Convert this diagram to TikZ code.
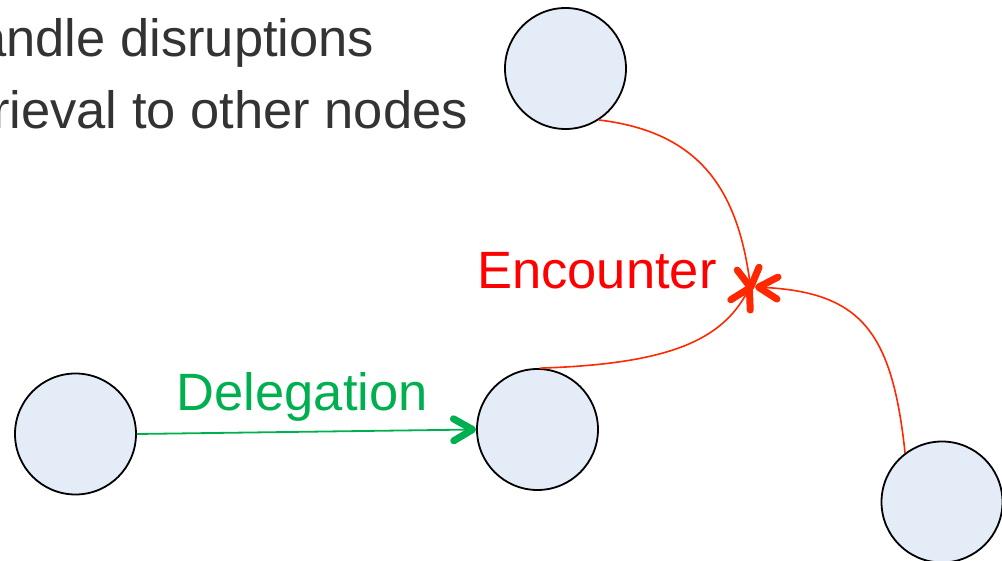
\documentclass[tikz,border=0pt]{standalone}
\usepackage{fontspec}
\setmainfont{Liberation Sans}
\usetikzlibrary{arrows.meta}
\definecolor{nodefill}{RGB}{228,236,247}
\definecolor{txtgray}{RGB}{51,51,51}
\definecolor{encred}{RGB}{255,0,0}
\definecolor{linered}{RGB}{255,40,0}
\definecolor{delgreen}{RGB}{0,176,80}
\tikzset{
  peer/.style={circle, draw=black, line width=1.8pt, fill=nodefill, minimum size=121pt, inner sep=0pt},
  bigtext/.style={inner sep=0pt, font=\fontsize{52.5}{63}\selectfont},
  tipbarb/.style={-{Straight Barb[length=19pt, width=22pt, line width=7pt, round]}},
  encline/.style={draw=linered, line width=1.6pt, tipbarb},
  delline/.style={draw=delgreen, line width=1.8pt, tipbarb}
}
\begin{document}
\begin{tikzpicture}[x=1pt,y=-1pt]
\useasboundingbox (0,0) rectangle (1002,561);
% header text (cropped at the left edge, as in the reference)
\node[bigtext, text=txtgray, anchor=base east] (t1) at (374.5,56.7) {andle disruptions};
\node[bigtext, text=txtgray, anchor=base east] (t2) at (468,128.3) {rieval to other nodes};
% nodes
\node[peer] (left) at (75.5,434) {};
\node[peer] (mid) at (537.5,429.5) {};
\node[peer] (top) at (565.5,68.5) {};
\node[peer] (br) at (942,502) {};
\coordinate (enc) at (752,288);
% labels
\node[bigtext, text=encred, anchor=base west] (lenc) at (477,288.3) {Encounter};
\node[bigtext, text=delgreen, anchor=base west] (ldel) at (176.5,410) {Delegation};
% connectors
\draw[delline] (left.east) -- (mid.west);
\draw[encline] (top.-57) .. controls (700,132) and (738,190) .. ([xshift=-1pt,yshift=-3pt]enc);
\draw[encline] (mid.88) .. controls (670,364) and (722,340) .. ([xshift=-1pt,yshift=3pt]enc);
\draw[encline] (br.127) .. controls (892,330) and (860,292) .. ([xshift=3pt,yshift=1pt]enc);
\end{tikzpicture}
\end{document}
